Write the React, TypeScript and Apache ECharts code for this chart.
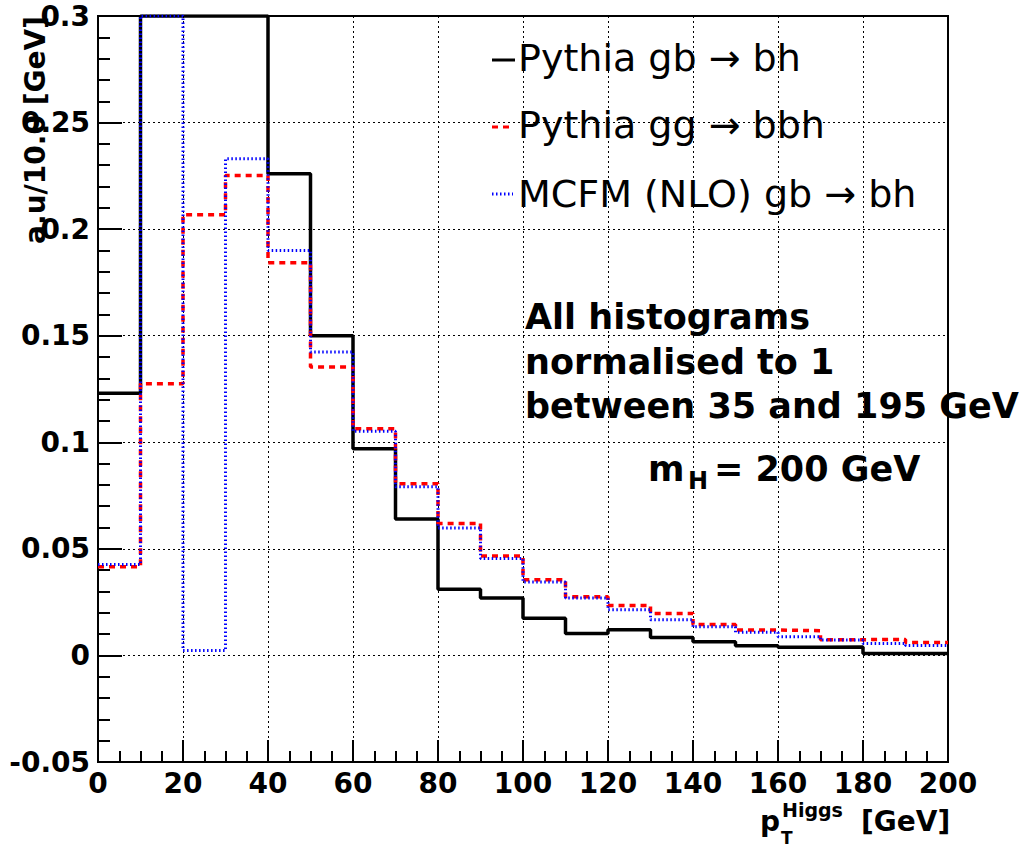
import React, { useEffect, useRef } from "react";
import * as echarts from "echarts";

// Bin lower edges (GeV), bin width 10 GeV
const binLow = [0, 10, 20, 30, 40, 50, 60, 70, 80, 90, 100, 110, 120, 130, 140, 150, 160, 170, 180, 190];
const xMax = 200;

// a.u / 10 GeV
const pythiaGbBh = [0.123, 0.40, 0.45, 0.337, 0.226, 0.150, 0.097, 0.064, 0.031, 0.027, 0.0175, 0.0103, 0.012, 0.0084, 0.0064, 0.0045, 0.0038, 0.0040, 0.0009, 0.0009];
const pythiaGgBbh = [0.0416, 0.1275, 0.2067, 0.2252, 0.1842, 0.1353, 0.1063, 0.0806, 0.0619, 0.0466, 0.0355, 0.0275, 0.0234, 0.0197, 0.0145, 0.0119, 0.0116, 0.0074, 0.0075, 0.0061];
const mcfmGbBh = [0.0427, 0.35, 0.0023, 0.233, 0.190, 0.1424, 0.1052, 0.0791, 0.0598, 0.0455, 0.0345, 0.027, 0.0214, 0.0167, 0.0134, 0.0109, 0.0088, 0.0072, 0.0056, 0.0047];

const seriesNames = ["Pythia gb \u2192 bh", "Pythia gg \u2192 bbh", "MCFM (NLO) gb \u2192 bh"];
const yMin = -0.05;
const yMax = 0.3;
const yInterval = 0.05;
const xInterval = 20;

const annotationLines = ["All histograms", "normalised to 1", "between 35 and 195 GeV"];

const FONT = "'DejaVu Sans', 'Liberation Sans', Arial, sans-serif";

function stepData(vals: number[]) {
  const clamp = (v: number) => Math.min(v, yMax);
  const pts = binLow.map((x, i) => [x, clamp(vals[i])]);
  pts.push([xMax, clamp(vals[vals.length - 1])]);
  return pts;
}

export default function App() {
  const ref = useRef<HTMLDivElement>(null);
  useEffect(() => {
    if (!ref.current) return;
    const chart = echarts.init(ref.current, undefined, { renderer: "svg" });
    const txt = (text: string, x: number, y: number, size: number, weight: string, extra: any = {}) => ({
      type: "text",
      x,
      y,
      z: 100,
      ...extra,
      style: {
        text,
        fill: "#000",
        fontSize: size,
        fontWeight: weight,
        fontFamily: FONT,
        textAlign: "left",
        textVerticalAlign: "middle",
        ...(extra.style || {}),
      },
    });
    const option: any = {
      animation: false,
      backgroundColor: "#fff",
      grid: {
        left: 98,
        right: 76,
        top: 16,
        bottom: 86,
        show: true,
        borderColor: "#000",
        borderWidth: 2,
        backgroundColor: "transparent",
      },
      xAxis: {
        type: "value",
        min: 0,
        max: xMax,
        interval: xInterval,
        axisLine: { show: true, onZero: false, lineStyle: { color: "#000", width: 2 } },
        axisTick: { show: true, inside: true, length: 22, lineStyle: { color: "#000", width: 2 } },
        minorTick: { show: true, splitNumber: 4, length: 11, lineStyle: { color: "#000", width: 2 } },
        splitLine: { show: true, lineStyle: { color: "#000", width: 1, type: [2, 3] } },
        axisLabel: {
          color: "#000",
          fontSize: 28,
          fontWeight: "bold",
          fontFamily: FONT,
          margin: 7,
        },
      },
      yAxis: {
        type: "value",
        min: yMin,
        max: yMax,
        interval: yInterval,
        axisLine: { show: true, onZero: false, lineStyle: { color: "#000", width: 2 } },
        axisTick: { show: true, inside: true, length: 24, lineStyle: { color: "#000", width: 2 } },
        minorTick: { show: true, splitNumber: 5, length: 12, lineStyle: { color: "#000", width: 2 } },
        splitLine: { show: true, lineStyle: { color: "#000", width: 1, type: [2, 3] } },
        axisLabel: {
          color: "#000",
          fontSize: 28,
          fontWeight: "bold",
          fontFamily: FONT,
          margin: 8,
          formatter: (v: number) => String(parseFloat(v.toFixed(2))),
        },
      },
      series: [
        {
          name: seriesNames[0],
          type: "line",
          step: "end",
          showSymbol: false,
          symbol: "none",
          data: stepData(pythiaGbBh),
          lineStyle: { color: "#000", width: 3.5, type: "solid" },
          z: 3,
        },
        {
          name: seriesNames[1],
          type: "line",
          step: "end",
          showSymbol: false,
          symbol: "none",
          data: stepData(pythiaGgBbh),
          lineStyle: { color: "#ff0000", width: 3.5, type: [6, 5] },
          z: 4,
        },
        {
          name: seriesNames[2],
          type: "line",
          step: "end",
          showSymbol: false,
          symbol: "none",
          data: stepData(mcfmGbBh),
          lineStyle: { color: "#0000ff", width: 3, type: [1.5, 2.5] },
          z: 5,
        },
      ],
      graphic: [
        // legend symbols
        { type: "line", z: 100, shape: { x1: 492, y1: 60, x2: 515, y2: 60 }, style: { stroke: "#000", lineWidth: 3 } },
        { type: "line", z: 100, shape: { x1: 492, y1: 127, x2: 512, y2: 127 }, style: { stroke: "#ff0000", lineWidth: 3, lineDash: [6, 5] } },
        { type: "line", z: 100, shape: { x1: 492, y1: 194, x2: 513, y2: 194 }, style: { stroke: "#0000ff", lineWidth: 3, lineDash: [1.5, 2.5] } },
        // legend labels
        txt(seriesNames[0], 518, 58, 38, "normal"),
        txt(seriesNames[1], 518, 124.5, 38, "normal"),
        txt(seriesNames[2], 518, 193.5, 38, "normal"),
        // annotation
        txt(annotationLines[0], 525, 317, 35, "bold"),
        txt(annotationLines[1], 525, 361.5, 35, "bold"),
        txt(annotationLines[2], 525, 405.5, 35, "bold"),
        txt("m", 648, 469, 35, "bold"),
        txt("H", 688, 481, 24, "bold"),
        txt("= 200 GeV", 714, 469, 35, "bold"),
        // y axis title
        {
          type: "text",
          x: 35,
          y: 130,
          rotation: Math.PI / 2,
          z: 100,
          style: {
            text: "a.u/10.0 [GeV]",
            fill: "#000",
            fontSize: 28,
            fontWeight: "bold",
            fontFamily: FONT,
            textAlign: "center",
            textVerticalAlign: "middle",
          },
        },
        // x axis title
        txt("p", 760, 821, 28, "bold"),
        txt("Higgs", 782, 810, 19, "bold"),
        txt("T", 781, 838, 17, "bold"),
        txt("[GeV]", 861, 821, 28, "bold"),
      ],
    };
    chart.setOption(option);
    return () => chart.dispose();
  }, []);
  return (
    <div
      ref={ref}
      style={{ position: "absolute", left: 0, top: 0, width: 1024, height: 848, background: "#fff" }}
    />
  );
}
